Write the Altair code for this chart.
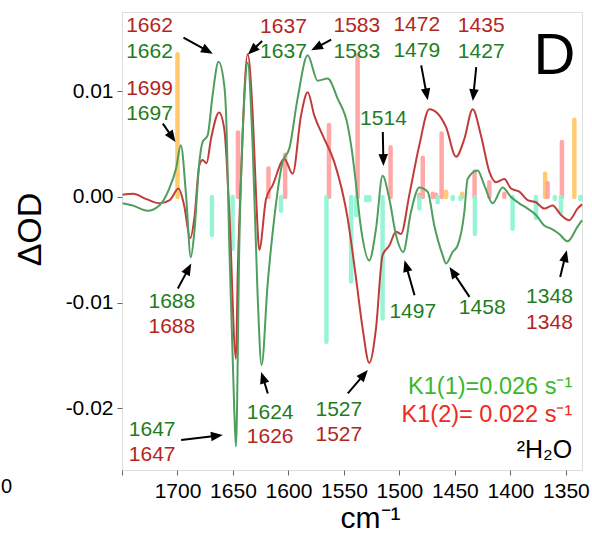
import math
import altair as alt
import pandas as pd

# ---------------- data ----------------
red_x = [1749.5, 1740, 1728, 1716, 1707, 1699, 1694, 1688.5, 1684.8, 1680.3, 1677.4, 1673.8,
         1669.8, 1662.5, 1657.8, 1653.3, 1647.3, 1645.8, 1642.8, 1636.8, 1632.3, 1629.2, 1626.3,
         1620.2, 1614.3, 1603.7, 1596.2, 1588.7, 1582.7, 1576.7, 1567.7, 1558.7, 1546.7, 1539.1,
         1533.2, 1527.2, 1521.1, 1515.2, 1509.1, 1503.1, 1498.6, 1491.1, 1482.1, 1473.1, 1465.6,
         1458, 1449, 1441.5, 1434, 1426.5, 1419, 1413, 1405.5, 1399.5, 1392, 1384.5, 1377,
         1369.5, 1362, 1354.4, 1347, 1339.5, 1335.5]
red_y = [0.0002, 0.0003, -0.0002, -0.0006, -0.0003, 0.0008, -0.0008, -0.0039, -0.002, 0.003, 0.0035, 0.0032,
         0.0055, 0.0080, 0.0064, -0.0014, -0.0153, -0.0077, 0.0017, 0.0135, 0.0080, 0.0002, -0.0050,
         -0.0002, 0.0011, 0.0036, 0.0022, 0.0077, 0.0099, 0.0077, 0.0055, 0.0033, -0.0020, -0.0077,
         -0.0124, -0.0157, -0.0124, -0.0055, -0.0046, -0.0033, -0.0035, 0.0002, 0.0049, 0.0083, 0.0079,
         0.0066, 0.0038, 0.0055, 0.0083, 0.0058, 0.0024, 0.0014, 0.0017, 0.0008, 0.0005, -0.0003, -0.0005,
         -0.0011, -0.0008, -0.0017, -0.0022, -0.0011, -0.0007]

green_x = [1749.5, 1740.4, 1727, 1716.4, 1707.4, 1701.3, 1697, 1692.3, 1688, 1684.8, 1680.3, 1677.4,
           1672.9, 1668.4, 1663, 1657.8, 1656.3, 1653.3, 1648.8, 1647.3, 1644.3, 1639.8, 1636.8,
           1632.3, 1627.8, 1624.2, 1618.8, 1612.8, 1605.3, 1599.2, 1591.8, 1582.7, 1573.7, 1564.7,
           1555.7, 1546.7, 1543, 1540, 1534.6, 1527.2, 1521.1, 1515.2, 1509.1, 1503.1, 1496.6,
           1489.6, 1482.1, 1474.6, 1468.6, 1461.1, 1458, 1452.1, 1447.6, 1441.5, 1438.6, 1429.6,
           1423.5, 1416, 1407, 1399.5, 1392, 1384.5, 1377, 1369.5, 1363.4, 1356, 1348.5, 1339.5, 1335.5]
green_y = [-0.0006, -0.0008, -0.0013, -0.0008, 0.0008, 0.0027, 0.0049, 0.0002, -0.0057, -0.0033, 0.0033, 0.0052,
           0.0058, 0.0096, 0.0128, 0.0105, 0.0081, -0.0046, -0.0203, -0.0236, -0.0046, 0.0093, 0.0127,
           0.0049, -0.0093, -0.0159, -0.0083, -0.0020, 0.0033, 0.0046, 0.0093, 0.0134, 0.0110, 0.0112,
           0.0093, 0.0068, 0.0045, 0.0020, -0.0030, -0.0060, -0.0030, 0.0020, -0.0002, -0.0036, -0.0052,
           -0.0014, 0.0009, 0.0005, -0.0027, -0.0055, -0.0063, -0.0052, -0.0046, -0.0014, 0.0017, 0.0025,
           0.0011, -0.0006, 0.0009, 0.0000, -0.0006, -0.0011, -0.0017, -0.0027, -0.0030, -0.0035, -0.0042, -0.0028, -0.0022]

orange_x = [1700, 1368.7, 1342.4, 1458, 1443.5]
orange_y = [0.0135, 0.0022, 0.0073, 0.0005, 0.0003]

pink_x = [1645.5, 1618, 1603, 1563.5, 1537.7, 1508, 1479, 1462, 1432.3, 1419, 1405.5, 1366.5, 1353.6,
          1482, 1470, 1467]
pink_y = [0.0061, 0.0027, 0.0040, 0.0068, 0.0134, 0.0047, 0.0037, 0.0060, 0.0024, 0.0014, 0.0003, 0.0013, 0.0052,
          0.0002, 0.0003, 0.0002]

cyan_x = [1669, 1650.3, 1606.7, 1565.8, 1543.5, 1539, 1515.2, 1482, 1465.6, 1432, 1398, 1377, 1354.4,
          1360, 1337, 1445, 1452, 1530, 1527]
cyan_y = [-0.0036, -0.0049, -0.0013, -0.0137, -0.0080, -0.0017, -0.0115, -0.0011, -0.0005, -0.0035, -0.0030,
          -0.0020, -0.0015, -0.0002, -0.0002, -0.0002, -0.0002, -0.0003, -0.0003]

DR = "#B3261E"   # dark red text
DG = "#1E7D1E"   # dark green text
lab_text = ["1662", "1662", "1637", "1637", "1583", "1583", "1472", "1479", "1435", "1427",
            "1699", "1697", "1514", "1688", "1688", "1497", "1458", "1348", "1348",
            "1624", "1626", "1527", "1527", "1647", "1647"]
lab_x = [1725.2, 1725.2, 1604.5, 1604.5, 1538.4, 1538.4, 1484.4, 1484.4, 1426.3, 1426.3,
         1725.2, 1725.2, 1514.4, 1705.1, 1705.1, 1488.0, 1425.4, 1364.8, 1364.8,
         1616.5, 1616.5, 1554.6, 1554.6, 1722.8, 1722.8]
lab_y = [0.01614, 0.01371, 0.01607, 0.01368, 0.01614, 0.01371, 0.01623, 0.01378, 0.01614, 0.01368,
         0.01025, 0.00789, 0.00735, -0.00993, -0.01229, -0.01087, -0.01055, -0.00951, -0.01191,
         -0.02042, -0.02275, -0.02017, -0.02253, -0.02206, -0.02442]
lab_color = [DR, DG, DR, DG, DR, DG, DR, DG, DR, DG,
             DR, DG, DG, DG, DR, DG, DG, DG, DR,
             DG, DR, DG, DR, DG, DR]

arrow_tail_x = [1694.6, 1623.7, 1561.5, 1480.4, 1430.8, 1713.2, 1515.0, 1699.7, 1486.4, 1436.9, 1355.2, 1618.6, 1546.5, 1696.7]
arrow_tail_y = [0.01507, 0.01475, 0.01488, 0.01245, 0.01229, 0.00694, 0.00615, -0.00866, -0.00929, -0.00945, -0.00756, -0.01859, -0.01859, -0.02300]
arrow_head_x = [1668.2, 1636.6, 1579.5, 1474.5, 1433.9, 1701.8, 1514.4, 1687.6, 1495.4, 1454.9, 1349.2, 1624.6, 1528.5, 1659.2]
arrow_head_y = [0.01356, 0.01349, 0.01387, 0.00914, 0.00908, 0.00520, 0.00293, -0.00630, -0.00598, -0.00662, -0.00504, -0.01655, -0.01638, -0.02253]

x_ticks = [1750, 1700, 1650, 1600, 1550, 1500, 1450, 1400, 1350]
y_ticks = [0.01, 0.0, -0.01, -0.02]

# ---------------- layout ----------------
X_DOMAIN = [1750, 1335.5]
Y_DOMAIN = [-0.02583, 0.0175]
W, H = 460, 458
P = W / (X_DOMAIN[0] - X_DOMAIN[1])
Q = H / (Y_DOMAIN[1] - Y_DOMAIN[0])
FONT = "Liberation Sans, Arial, Helvetica, sans-serif"

xs = alt.Scale(domain=X_DOMAIN, nice=False, zero=False)
ys = alt.Scale(domain=Y_DOMAIN, nice=False, zero=False)

xax = alt.Axis(values=x_ticks, format="d",
               labelExpr="datum.value == 1750 ? '' : format(datum.value, 'd')", title="cm⁻¹",
               grid=False, domain=False, tickSize=5, tickColor="#666", labelPadding=5,
               labelFontSize=21, titleFontSize=30, titleFontWeight="normal",
               titleX=248, titleY=57, titleBaseline="alphabetic", labelColor="black")
yax = alt.Axis(values=y_ticks,
               labelExpr="datum.value < 0 ? '-' + format(-datum.value, '.2f') : format(datum.value, '.2f')",
               title="ΔOD", grid=False, domain=False, tickSize=5, tickColor="#666", labelPadding=4,
               labelFontSize=21, titleFontSize=34, titleFontWeight="normal",
               titleX=-92, titleY=217, titleAngle=270, titleAlign="center", titleBaseline="middle",
               labelColor="black")

X = lambda f: alt.X(f, type="quantitative", scale=xs, axis=xax)
Y = lambda f: alt.Y(f, type="quantitative", scale=ys, axis=yax)

# sticks
bars = pd.concat([
    pd.DataFrame({"x": orange_x, "y": orange_y, "c": "#FFC55E"}),
    pd.DataFrame({"x": pink_x, "y": pink_y, "c": "#FF9E9E"}),
    pd.DataFrame({"x": cyan_x, "y": cyan_y, "c": "#8EF3D3"}),
])
bars["y0"] = 0.0
bar_layer = alt.Chart(bars).mark_rule(strokeWidth=4.5, strokeCap="round", opacity=0.9).encode(
    x=X("x"), y=Y("y"), y2="y0", color=alt.Color("c:N", scale=None))

red_df = pd.DataFrame({"x": red_x, "y": red_y})
green_df = pd.DataFrame({"x": green_x, "y": green_y})
red_line = alt.Chart(red_df).mark_line(color="#C03C3A", strokeWidth=2, interpolate="monotone").encode(
    x=X("x"), y=Y("y"), order="x:Q")
green_line = alt.Chart(green_df).mark_line(color="#4E9E5E", strokeWidth=2, interpolate="monotone").encode(
    x=X("x"), y=Y("y"), order="x:Q")

# arrows
rows = []
for tx, ty, hx, hy in zip(arrow_tail_x, arrow_tail_y, arrow_head_x, arrow_head_y):
    dx = -(hx - tx) * P
    dy = -(hy - ty) * Q
    L = math.hypot(dx, dy)
    ux, uy = dx / L, dy / L
    ang = math.degrees(math.atan2(dx, -dy)) % 360
    back = 8
    rows.append({"tx": tx, "ty": ty, "hx": hx, "hy": hy,
                 "ex": hx + back * ux / P, "ey": hy + back * uy / Q, "ang": ang})
arr = pd.DataFrame(rows)
arrow_lines = alt.Chart(arr).mark_rule(color="black", strokeWidth=2).encode(
    x=X("tx"), y=Y("ty"), x2="ex", y2="ey")
arrow_heads = alt.Chart(arr).mark_point(shape="M0,0L-0.8,2L0.8,2Z", filled=True, size=140,
                                        color="black", opacity=1, strokeWidth=0).encode(
    x=X("hx"), y=Y("hy"), angle=alt.Angle("ang:Q", scale=None))

labels = pd.DataFrame({"x": lab_x, "y": lab_y, "t": lab_text, "c": lab_color})
label_layer = alt.Chart(labels).mark_text(fontSize=21, font=FONT, baseline="middle", align="center").encode(
    x=X("x"), y=Y("y"), text="t:N", color=alt.Color("c:N", scale=None))

notes = pd.DataFrame({
    "x": [1344.3, 1344.3, 1344.3, 1360.3],
    "y": [-0.01796, -0.02064, -0.02395, 0.01324],
    "t": ["K1(1)=0.026 s⁻¹", "K1(2)= 0.022 s⁻¹", "²H₂O", "D"],
    "c": ["#36B82A", "#EE2A1A", "black", "black"],
    "s": [23.5, 23.5, 25, 58],
    "a": ["right", "right", "right", "center"],
})
note_layer = alt.Chart(notes[notes.a == "right"]).mark_text(font=FONT, baseline="middle", align="right").encode(
    x=X("x"), y=Y("y"), text="t:N", color=alt.Color("c:N", scale=None), size=alt.Size("s:Q", scale=None))
d_layer = alt.Chart(notes[notes.a == "center"]).mark_text(font=FONT, baseline="middle", align="center").encode(
    x=X("x"), y=Y("y"), text="t:N", color=alt.Color("c:N", scale=None), size=alt.Size("s:Q", scale=None))

stray = alt.Chart(pd.DataFrame({"t": ["0"]})).mark_text(font=FONT, fontSize=20, align="left",
                                                      baseline="middle", color="black").encode(
    x=alt.value(-121), y=alt.value(475), text="t:N")

chart = alt.layer(bar_layer, red_line, green_line, arrow_lines, arrow_heads, label_layer,
                  note_layer, d_layer, stray).properties(
    width=W, height=H,
    autosize=alt.AutoSizeParams(type="none"),
    padding={"left": 122, "top": 12, "right": 10, "bottom": 66},
).configure_view(stroke="#666", strokeWidth=1.5).configure_axis(
    labelFont=FONT, titleFont=FONT, titleColor="black"
).configure(background="white")

chart.save("out.html", embed_options={"renderer": "svg", "actions": False})
